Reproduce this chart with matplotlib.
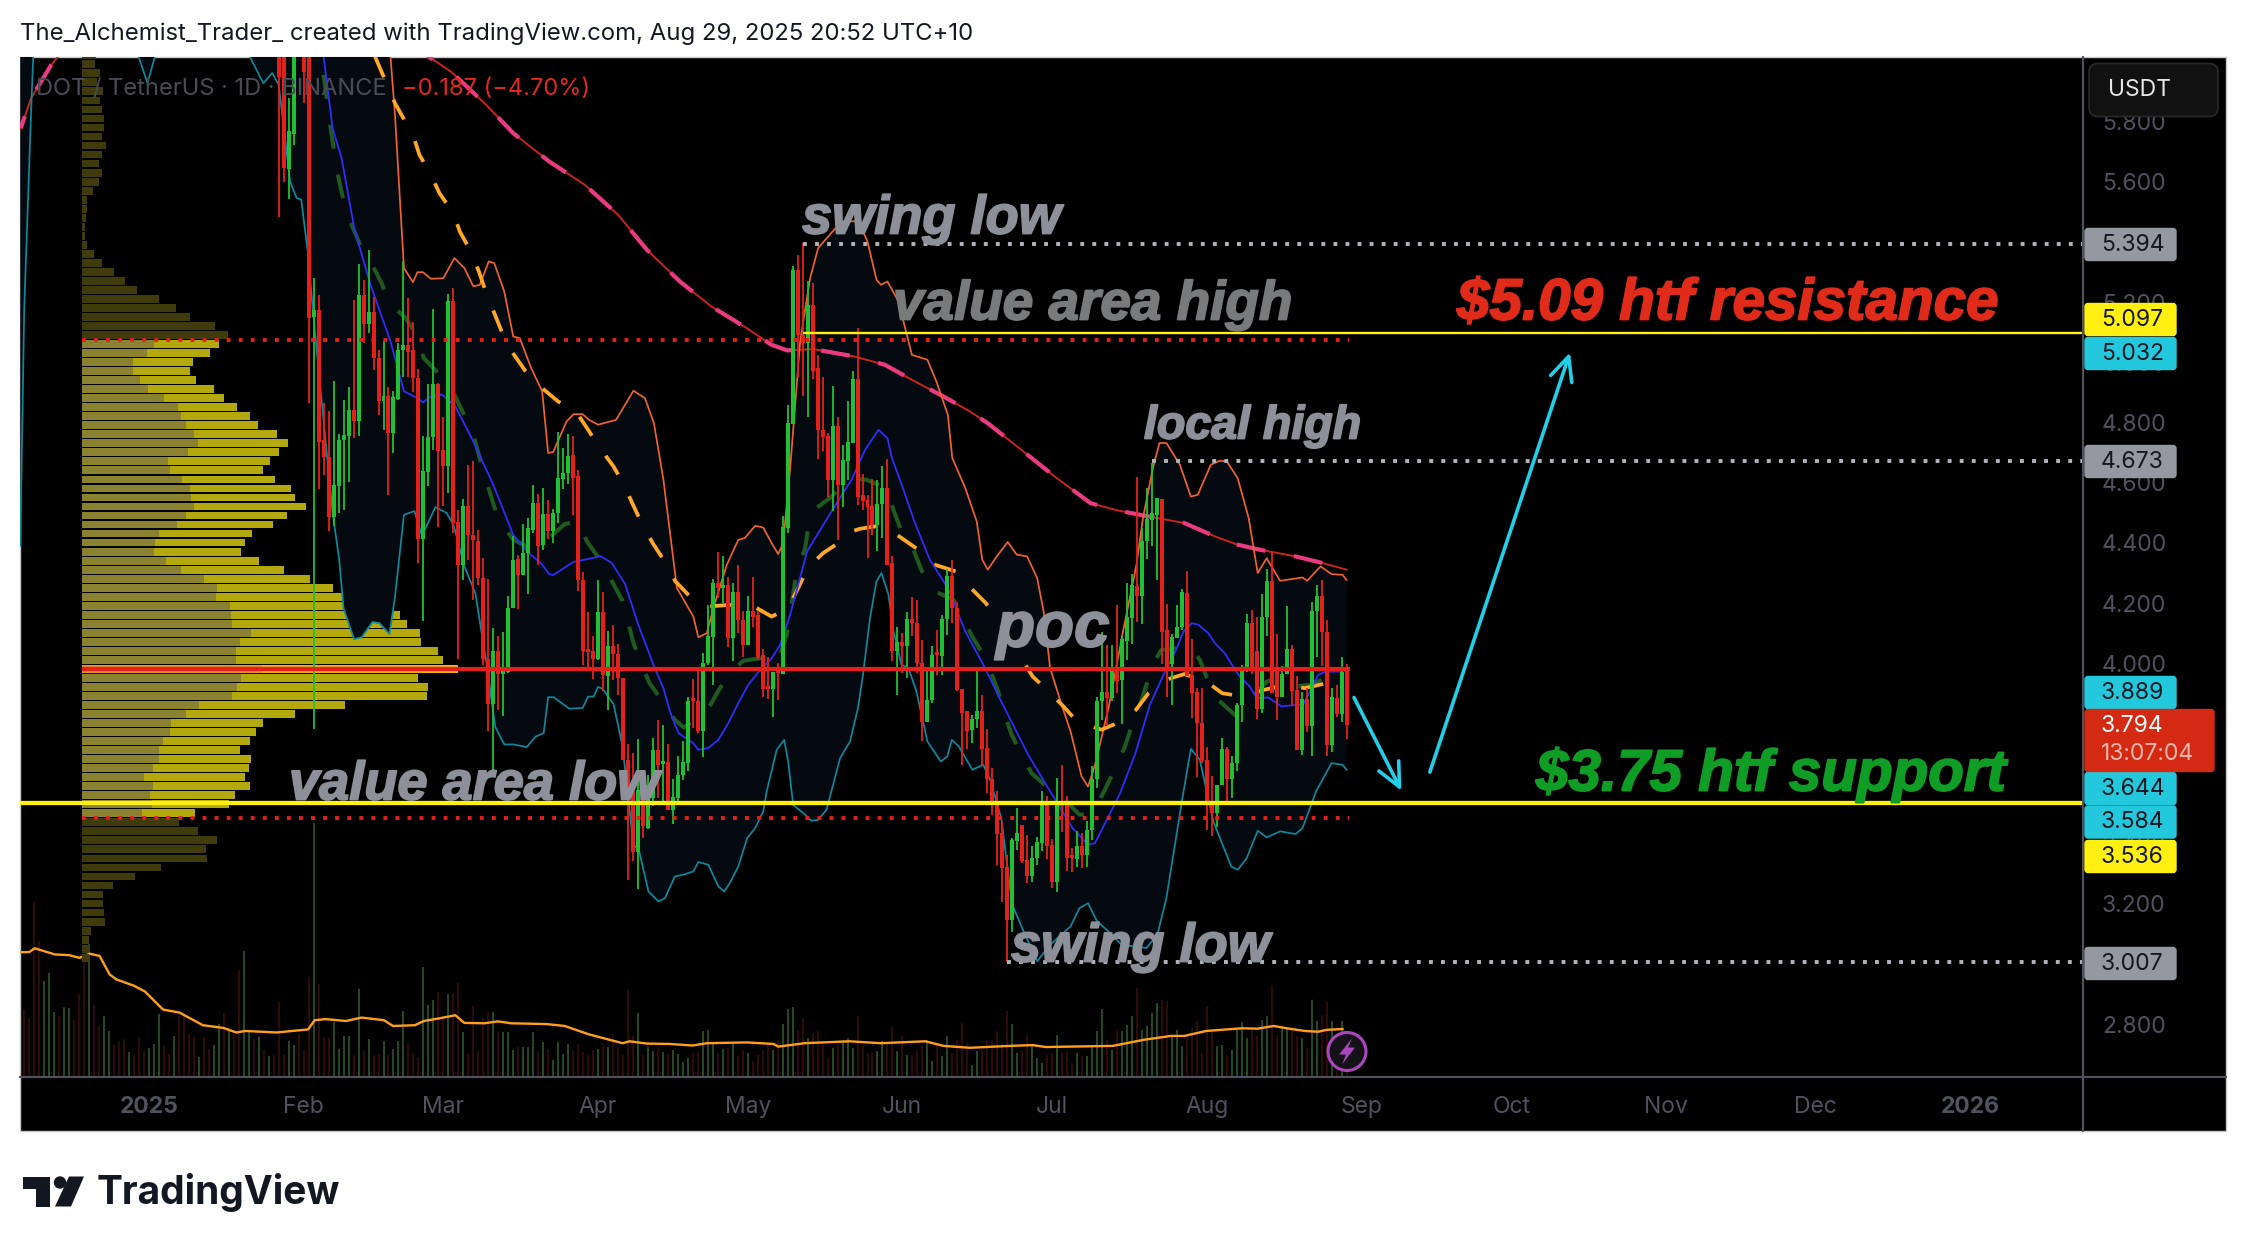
from matplotlib import pyplot as plt
from matplotlib.patches import Rectangle, FancyBboxPatch, Circle, Polygon
import matplotlib.patheffects as pe
import numpy as np

plt.rcParams['font.family'] = ['Inter', 'DejaVu Sans']

W, H = 2246, 1250
SHIFT = 1.5
PANE_L, PANE_R, PANE_T, PANE_B = 20, 2083, 55 + SHIFT, 1075 + SHIFT
XLIM = (-25.85, 387.6)
YLIM = (2.626, 6.017)

# daily candles, day 0 = 1 Jan 2025, first one is day 26
first_day = 26
opens = [6.10, 6.05, 5.642, 5.760, 6.25, 6.20, 6.05, 5.150, 5.175, 4.743,
         4.687, 4.485, 4.588, 4.743, 4.757, 4.842, 4.804, 5.225, 5.127, 5.166,
         5.014, 4.873, 4.887, 4.765, 4.879, 5.042, 5.059, 5.040, 4.948, 4.413,
         4.635, 4.751, 4.929, 4.709, 4.656, 5.203, 4.471, 4.327, 4.521, 4.427,
         4.407, 4.283, 4.015, 3.864, 4.042, 3.964, 3.972, 4.183, 4.347, 4.294,
         4.366, 4.443, 4.534, 4.394, 4.497, 4.440, 4.499, 4.613, 4.632, 4.693,
         4.621, 4.277, 4.044, 4.039, 4.014, 4.169, 3.959, 4.056, 4.031, 3.950,
         3.679, 3.574, 3.372, 3.646, 3.452, 3.552, 3.710, 3.665, 3.673, 3.513,
         3.552, 3.629, 3.668, 3.878, 3.876, 3.773, 4.002, 4.087, 4.266, 4.250,
         4.261, 4.083, 4.238, 4.142, 4.061, 4.175, 4.159, 4.026, 3.919, 3.915,
         3.970, 3.964, 4.449, 4.795, 5.306, 5.092, 5.064, 5.191, 4.981, 4.774,
         4.754, 4.608, 4.790, 4.591, 4.671, 4.732, 4.945, 4.558, 4.543, 4.521,
         4.460, 4.530, 4.584, 4.333, 4.041, 4.072, 4.058, 4.147, 4.135, 4.000,
         3.806, 3.878, 4.031, 4.023, 4.148, 4.291, 4.183, 3.915, 3.840, 3.777,
         3.815, 3.842, 3.718, 3.616, 3.542, 3.435, 3.321, 3.147, 3.410, 3.463,
         3.346, 3.291, 3.354, 3.402, 3.540, 3.394, 3.274, 3.535, 3.538, 3.358,
         3.349, 3.391, 3.361, 3.444, 3.615, 3.875, 3.903, 3.884, 3.978, 3.945,
         4.075, 4.150, 4.258, 4.222, 4.405, 4.477, 4.493, 4.546, 4.111, 3.997,
         4.083, 4.119, 4.235, 3.961, 3.904, 3.801, 3.679, 3.540, 3.502, 3.596,
         3.715, 3.615, 3.668, 3.862, 3.989, 4.133, 4.041, 3.847, 4.153, 4.274,
         3.984, 3.889, 3.965, 4.048, 3.912, 3.712, 3.882, 3.790, 4.175, 4.225,
         4.105, 3.727, 3.884, 3.831, 3.980]
highs = [6.20, 6.20, 5.878, 6.20, 6.30, 6.30, 6.10, 5.280, 5.225, 4.865,
         4.837, 4.937, 4.763, 4.876, 4.917, 5.208, 5.328, 5.275, 5.374, 5.219,
         5.042, 5.070, 4.917, 4.906, 5.064, 5.336, 5.214, 5.136, 4.979, 4.754,
         4.929, 5.178, 4.933, 4.817, 5.228, 5.247, 4.510, 4.546, 4.659, 4.673,
         4.443, 4.349, 4.281, 4.117, 4.091, 4.105, 4.224, 4.423, 4.360, 4.463,
         4.484, 4.593, 4.563, 4.584, 4.543, 4.513, 4.770, 4.717, 4.763, 4.756,
         4.643, 4.302, 4.169, 4.089, 4.277, 4.238, 4.108, 4.128, 4.064, 3.950,
         3.732, 3.701, 3.749, 3.646, 3.630, 3.753, 3.812, 3.793, 3.732, 3.616,
         3.693, 3.742, 3.889, 3.948, 3.975, 4.033, 4.194, 4.281, 4.371, 4.358,
         4.286, 4.266, 4.327, 4.172, 4.222, 4.285, 4.172, 4.048, 4.019, 3.970,
         4.000, 4.491, 4.859, 5.322, 5.358, 5.396, 5.269, 5.263, 5.025, 4.953,
         4.765, 4.920, 4.817, 4.724, 4.873, 4.972, 5.116, 4.630, 4.560, 4.613,
         4.610, 4.657, 4.680, 4.355, 4.119, 4.100, 4.170, 4.219, 4.211, 4.076,
         3.978, 4.056, 4.109, 4.159, 4.313, 4.342, 4.205, 3.915, 3.842, 3.828,
         3.987, 3.893, 3.782, 3.653, 3.574, 3.474, 3.361, 3.418, 3.520, 3.463,
         3.429, 3.391, 3.421, 3.576, 3.557, 3.416, 3.620, 3.660, 3.557, 3.387,
         3.443, 3.435, 3.474, 3.657, 3.889, 4.105, 4.061, 4.061, 4.192, 4.094,
         4.266, 4.297, 4.620, 4.449, 4.584, 4.665, 4.549, 4.546, 4.197, 4.097,
         4.192, 4.247, 4.305, 4.081, 3.919, 3.919, 3.720, 3.626, 3.596, 3.753,
         3.723, 3.692, 3.869, 3.995, 4.164, 4.177, 4.155, 4.231, 4.314, 4.369,
         4.098, 3.992, 4.189, 4.059, 3.956, 3.903, 3.919, 4.205, 4.260, 4.277,
         4.142, 3.919, 3.928, 4.019, 3.998]
lows = [5.485, 5.601, 5.543, 5.723, 6.05, 5.862, 4.865, 3.78, 4.579, 4.626,
        4.438, 4.457, 4.499, 4.510, 4.604, 4.748, 4.754, 5.064, 5.097, 4.975,
        4.826, 4.776, 4.560, 4.698, 4.875, 4.951, 4.951, 4.903, 4.333, 4.14,
        4.588, 4.710, 4.452, 4.521, 4.566, 4.432, 4.015, 4.277, 4.344, 4.209,
        4.261, 3.995, 3.775, 3.646, 3.845, 3.823, 3.967, 4.183, 4.181, 4.294,
        4.230, 4.432, 4.327, 4.377, 4.412, 4.399, 4.466, 4.579, 4.595, 4.493,
        4.241, 3.995, 3.989, 3.947, 4.011, 3.908, 3.845, 3.945, 3.895, 3.679,
        3.280, 3.341, 3.250, 3.419, 3.449, 3.524, 3.552, 3.535, 3.513, 3.465,
        3.540, 3.612, 3.640, 3.784, 3.768, 3.688, 3.995, 3.928, 4.216, 4.200,
        4.053, 4.006, 4.100, 4.022, 4.061, 4.122, 4.011, 3.889, 3.881, 3.821,
        3.878, 3.964, 4.432, 4.795, 4.953, 4.887, 4.820, 4.945, 4.678, 4.707,
        4.554, 4.505, 4.408, 4.519, 4.610, 4.732, 4.527, 4.510, 4.349, 4.427,
        4.372, 4.416, 4.327, 4.006, 3.893, 3.969, 3.951, 4.092, 3.967, 3.740,
        3.803, 3.867, 3.962, 3.962, 4.095, 4.135, 3.906, 3.662, 3.714, 3.734,
        3.784, 3.662, 3.568, 3.496, 3.330, 3.206, 3.007, 3.108, 3.380, 3.335,
        3.269, 3.271, 3.330, 3.376, 3.349, 3.252, 3.239, 3.440, 3.308, 3.305,
        3.324, 3.319, 3.324, 3.413, 3.585, 3.812, 3.795, 3.873, 3.900, 3.797,
        4.011, 4.063, 4.136, 4.130, 4.347, 4.391, 4.277, 3.997, 3.889, 3.862,
        4.083, 4.111, 3.959, 3.817, 3.623, 3.668, 3.446, 3.424, 3.454, 3.596,
        3.535, 3.551, 3.642, 3.806, 3.972, 3.964, 3.814, 3.834, 4.092, 3.900,
        3.812, 3.889, 3.965, 3.858, 3.712, 3.696, 3.771, 3.690, 4.022, 3.991,
        3.690, 3.704, 3.820, 3.804, 3.747]
closes = [5.95, 5.646, 5.768, 6.05, 6.10, 5.967, 5.147, 5.173, 4.737, 4.684,
          4.485, 4.591, 4.743, 4.759, 4.842, 4.804, 5.225, 5.127, 5.166, 5.016,
          4.873, 4.887, 4.765, 4.884, 5.042, 5.059, 5.036, 4.948, 4.413, 4.638,
          4.751, 4.929, 4.707, 4.656, 5.203, 4.466, 4.327, 4.524, 4.425, 4.410,
          4.283, 4.015, 3.864, 4.039, 3.964, 3.972, 4.183, 4.344, 4.294, 4.366,
          4.449, 4.534, 4.391, 4.497, 4.440, 4.499, 4.617, 4.634, 4.690, 4.617,
          4.277, 4.042, 4.037, 4.014, 4.169, 3.961, 4.056, 4.030, 3.950, 3.679,
          3.565, 3.372, 3.579, 3.460, 3.596, 3.710, 3.660, 3.673, 3.513, 3.554,
          3.629, 3.671, 3.876, 3.873, 3.773, 4.002, 4.089, 4.266, 4.250, 4.258,
          4.083, 4.238, 4.142, 4.061, 4.175, 4.155, 4.022, 3.915, 3.915, 3.970,
          3.967, 4.454, 4.798, 5.306, 5.092, 5.064, 5.191, 4.973, 4.774, 4.752,
          4.608, 4.790, 4.591, 4.674, 4.737, 4.945, 4.554, 4.538, 4.519, 4.460,
          4.530, 4.584, 4.327, 4.041, 4.072, 4.058, 4.147, 4.133, 4.000, 3.806,
          3.878, 4.028, 4.026, 4.148, 4.291, 4.183, 3.912, 3.834, 3.773, 3.815,
          3.842, 3.714, 3.615, 3.535, 3.432, 3.319, 3.147, 3.413, 3.435, 3.341,
          3.291, 3.354, 3.404, 3.535, 3.393, 3.274, 3.535, 3.524, 3.352, 3.352,
          3.391, 3.361, 3.444, 3.615, 3.875, 3.903, 3.884, 3.978, 3.942, 4.080,
          4.155, 4.260, 4.222, 4.405, 4.479, 4.499, 4.549, 4.105, 3.980, 4.087,
          4.122, 4.238, 3.959, 3.900, 3.801, 3.676, 3.540, 3.502, 3.596, 3.715,
          3.615, 3.668, 3.862, 3.989, 4.133, 3.981, 3.847, 4.155, 4.272, 3.900,
          3.889, 3.965, 4.048, 3.908, 3.712, 3.882, 3.790, 4.175, 4.225, 4.103,
          3.727, 3.886, 3.831, 3.972, 3.794]

# 200 day average
ma_days = [-25.7, -23.6, -19.6, -18.2, -15, -5, 30, 50, 56, 60.5, 67.6, 73, 80.2, 87.3, 94, 99.8,
           106.4, 112.7, 119.8, 124.7, 127.9, 133.2, 141.3, 147.5, 152.9, 159.2, 164.5, 168.1,
           174.4, 181.5, 188.7, 194.1, 200.3, 207.5, 213.7, 218.2, 222.7, 229.8, 235.2, 240]
ma_vals = [5.779, 5.879, 5.989, 6.017, 6.15, 6.5, 6.8, 6.2, 6.017, 5.967, 5.856, 5.762, 5.668, 5.591,
           5.491, 5.374, 5.269, 5.186, 5.114, 5.059, 5.040, 5.044, 5.020, 4.992, 4.942, 4.887,
           4.837, 4.798, 4.715, 4.621, 4.532, 4.508, 4.488, 4.466, 4.421, 4.394, 4.377, 4.355,
           4.333, 4.311]

upper_days = [-25.8, 47, 48.4, 49.3, 51.1, 52.9, 53.8, 54.9, 56.5, 59, 61.2, 63.2, 65, 66.3, 68.1, 69.2,
              71.2, 73, 74.3, 76.6, 78.8, 80, 81, 83.7, 85.1, 86.9, 88.2, 90, 93.6, 97.1, 99.4,
              101.2, 103.1, 105.8, 109.1, 110.1, 111.8, 113.1, 115.8, 118.1, 119.4, 121.5, 123.1,
              124.8, 126.1, 127.1, 128.5, 130.5, 132.5, 134.1, 137.3, 139, 142.2, 144, 145.8, 146.7,
              148, 150.2, 152.9, 156, 157.8, 160.1, 161, 163.6, 165.9, 167, 168.1, 169.9, 172.1,
              173.9, 176, 178, 179.3, 180.6, 182.9, 184.7, 186.9, 188.2, 189.6, 192.3, 195.2, 197.9,
              199.2, 201.2, 202.5, 203.9, 206.6, 208.8, 210.2, 212.8, 214.6, 216, 218.2, 220.4,
              222.2, 224, 226.7, 231.2, 232.1, 234.8, 237, 239.2, 240]
upper_vals = [9, 9, 6.017, 5.823, 5.314, 5.267, 5.300, 5.300, 5.278, 5.280, 5.347, 5.314, 5.253, 5.258,
              5.336, 5.330, 5.236, 5.086, 5.081, 4.981, 4.904, 4.699, 4.702, 4.804, 4.828, 4.828,
              4.809, 4.793, 4.809, 4.906, 4.881, 4.798, 4.610, 4.250, 4.155, 4.086, 4.100, 4.183,
              4.327, 4.410, 4.416, 4.457, 4.451, 4.399, 4.363, 4.399, 4.648, 5.07, 5.28, 5.380,
              5.441, 5.469, 5.469, 5.402, 5.275, 5.258, 5.269, 5.203, 5.025, 5.009, 4.937, 4.826,
              4.682, 4.582, 4.471, 4.344, 4.311, 4.355, 4.403, 4.361, 4.355, 4.283, 4.172, 3.984,
              3.862, 3.773, 3.624, 3.590, 3.662, 3.851, 4.105, 4.327, 4.482, 4.649, 4.732, 4.732,
              4.660, 4.554, 4.560, 4.660, 4.673, 4.671, 4.615, 4.482, 4.300, 4.349, 4.274, 4.285,
              4.274, 4.322, 4.296, 4.294, 4.277]

lower_days = [-25.8, -25, -23.6, -23.2, -20, -5, -2.1, -0.3, 1.2, 10, 20.2, 22.9, 24.7, 26, 28.3, 29.6, 30.5,
              31.9, 32.8, 34.1, 35.4, 36.8, 38.1, 39, 41.1, 42.6, 44.8, 46.2, 48.2, 49.3, 51.1,
              53.2, 54.7, 57.4, 59.6, 61, 63.2, 65.4, 67.6, 69.4, 71.2, 73, 75.7, 77.5, 79.1, 80,
              81.1, 84.2, 86.9, 88, 89.1, 90, 90.9, 93.1, 94.9, 97.1, 98.1, 100.1, 102.1, 103.4,
              105.4, 107.1, 109.1, 110.1, 112.1, 114.1, 115.3, 116.4, 118.1, 119.9, 121.5, 123.1,
              123.8, 125.8, 127.3, 128.1, 129.1, 131.5, 132.8, 134.1, 135.8, 138.5, 140.5, 142.1,
              143.1, 144.5, 145.8, 146.8, 148.2, 149.2, 150.8, 152.2, 153.8, 156, 158.7, 160, 160.9,
              162.3, 165, 167.2, 168.6, 170.8, 173, 175.3, 178, 180.6, 184.7, 186.5, 188.2, 190,
              192.3, 194.9, 197.6, 199.9, 202.1, 203.9, 207, 208.8, 210.6, 213.3, 216.9, 218.2,
              220, 222.2, 224, 226.7, 229.8, 231.2, 233.9, 237, 239.2, 240]
lower_vals = [4.39, 5.18, 5.845, 6.017, 6.3, 6.2, 6.017, 5.928, 6.017, 6.5, 6.017, 5.928, 5.962, 5.923, 5.6,
              5.546, 5.541, 5.358, 5.18, 4.959, 4.737, 4.5, 4.347, 4.182, 4.080, 4.086, 4.137, 4.133,
              4.097, 4.220, 4.493, 4.506, 4.423, 4.519, 4.5, 4.462, 4.322, 4.233, 4.004, 3.788,
              3.730, 3.73, 3.721, 3.756, 3.768, 3.887, 3.887, 3.849, 3.851, 3.889, 3.889, 3.921,
              3.915, 3.864, 3.724, 3.393, 3.385, 3.241, 3.208, 3.219, 3.291, 3.297, 3.308, 3.339,
              3.33, 3.258, 3.241, 3.269, 3.324, 3.419, 3.452, 3.507, 3.574, 3.712, 3.745, 3.673,
              3.529, 3.496, 3.476, 3.479, 3.513, 3.684, 3.74, 3.851, 3.962, 4.15, 4.272, 4.3, 4.228,
              4.106, 3.995, 3.984, 3.906, 3.74, 3.673, 3.690, 3.745, 3.723, 3.646, 3.662, 3.612,
              3.485, 3.197, 3.108, 3.009, 3.064, 3.125, 3.186, 3.202, 3.142, 3.108, 3.064, 3.058,
              3.053, 3.097, 3.219, 3.54, 3.715, 3.679, 3.474, 3.324, 3.313, 3.352, 3.443, 3.421,
              3.441, 3.432, 3.452, 3.574, 3.668, 3.662, 3.646]

blue_days = [35, 36.8, 38.6, 41.2, 44.4, 48.4, 51.1, 53.8, 54.9, 56.5, 58.7, 61.4, 65, 69, 73, 75.7, 78.8,
             80.2, 81, 85.1, 88.2, 90.5, 92.7, 95.4, 98, 101.2, 103.1, 104.4, 106.1, 109.1, 110.1, 112.1,
             114.1, 116.1, 118.1, 120.1, 122.5, 124.8, 126.5, 128.5, 131.9, 136.8, 140.8, 143.5, 146.2,
             148, 148.9, 151.1, 153.4, 156.5, 160.1, 163.6, 167.2, 170.8, 176.2, 180.6, 185.1, 188.2,
             189.6, 194.5, 197.6, 200.6, 203.3, 206, 207.3, 209, 210.3, 212.3, 213.6, 215.6, 216.6,
             218.6, 220.6, 222, 224.3, 227, 230, 231.3, 232.7, 234.3, 235.7, 238.7, 240]
blue_vals = [6.017, 5.779, 5.679, 5.441, 5.258, 5.070, 4.904, 4.881, 4.867, 4.887, 4.893, 4.854, 4.737,
             4.593, 4.427, 4.373, 4.328, 4.296, 4.293, 4.337, 4.347, 4.356, 4.334, 4.264, 4.131, 3.99,
             3.917, 3.840, 3.768, 3.734, 3.712, 3.718, 3.745, 3.801, 3.867, 3.928, 3.978, 4.017, 4.061,
             4.161, 4.372, 4.505, 4.61, 4.709, 4.776, 4.748, 4.682, 4.582, 4.471, 4.344, 4.25, 4.106,
             3.995, 3.873, 3.696, 3.574, 3.452, 3.396, 3.402, 3.563, 3.696, 3.862, 3.961, 4.05, 4.105,
             4.133, 4.128, 4.1, 4.067, 4.033, 4.006, 3.956, 3.923, 3.884, 3.886, 3.856, 3.862, 3.862,
             3.906, 3.961, 3.972, 3.972, 3.984]

orange_days = [45.3, 47, 49.3, 50.6, 52.9, 54.2, 56.5, 58.2, 61, 62.3, 64.5, 66.1, 67.6, 69.2, 70.8, 72.8, 75.5,
               78.4, 82, 85.5, 88, 90.3, 93.1, 95.1, 97, 98.8, 101, 103.4, 105.5, 108.4, 112.4, 116.4, 121.5,
               124.8, 128.1, 130.1, 132.1, 135.1, 139.1, 140.8, 142.5, 146.8, 150.4, 154.2, 157, 161.7,
               164.4, 167.7, 170.1, 172.6, 174.6, 177.1, 179.9, 183.3, 186, 190.9, 194.1, 197.8, 200.3,
               203.9, 207.5, 211.9, 215.1, 219.5, 223.6, 228, 231.6, 236.1, 239.7]
orange_vals = [6.017, 5.951, 5.862, 5.823, 5.757, 5.69, 5.624, 5.563, 5.496, 5.435, 5.369, 5.303, 5.23, 5.164,
               5.098, 5.034, 4.97, 4.92, 4.87, 4.839, 4.776, 4.717, 4.654, 4.596, 4.527, 4.463, 4.398, 4.337,
               4.272, 4.222, 4.189, 4.194, 4.186, 4.155, 4.183, 4.25, 4.318, 4.366, 4.410, 4.438, 4.447,
               4.458, 4.421, 4.377, 4.33, 4.305, 4.255, 4.2, 4.145, 4.072, 4.022, 3.956, 3.912, 3.856,
               3.806, 3.779, 3.801, 3.845, 3.9, 3.945, 3.964, 3.939, 3.9, 3.889, 3.912, 3.928, 3.917,
               3.934, 3.923]

green_days = [35, 36.3, 37.7, 39.5, 42.6, 44.4, 46.6, 48.2, 51.5, 53.3, 55.1, 57.3, 60.9, 65, 67.2, 69.9, 73,
              76.1, 80.6, 83.3, 86, 87.8, 90.5, 92.2, 94.9, 95.8, 97.1, 98.5, 100.3, 102.5, 105.2, 107.2,
              111.8, 113.8, 116.1, 119.1, 123.5, 126.1, 127.8, 129.8, 131.5, 132.1, 133.8, 136.8, 140.1,
              143.8, 147.8, 149.2, 150.8, 153.2, 154.8, 156.8, 161.2, 162.9, 164.8, 166.8, 168.8, 170.2,
              171.5, 172.9, 174.9, 176.9, 180.2, 183.2, 186.5, 189.2, 191.9, 193.6, 195.6, 196.9, 198.6,
              199.9, 201.3, 202.9, 208.6, 210.6, 212.3, 214.3, 217.6, 220.6, 224, 226, 230, 232.7, 235.7,
              238.7]
green_vals = [5.956, 5.79, 5.635, 5.5, 5.38, 5.336, 5.264, 5.197, 5.147, 5.098, 5.014, 4.976, 4.904, 4.76,
              4.627, 4.483, 4.411, 4.385, 4.423, 4.462, 4.474, 4.404, 4.341, 4.29, 4.207, 4.15, 4.067,
              4.004, 3.934, 3.883, 3.815, 3.786, 3.84, 3.9, 3.961, 4.008, 4.019, 4.008, 4.094, 4.305,
              4.382, 4.449, 4.516, 4.554, 4.615, 4.61, 4.582, 4.51, 4.438, 4.377, 4.31, 4.244, 4.211,
              4.161, 4.094, 4.039, 3.967, 3.906, 3.828, 3.762, 3.695, 3.634, 3.585, 3.551, 3.496,
              3.502, 3.59, 3.651, 3.723, 3.79, 3.862, 3.928, 4.0, 4.044, 4.056, 4.011, 3.939, 3.878,
              3.828, 3.878, 3.939, 3.95, 3.923, 3.928, 3.950, 3.934]

# volume, two stretches read at slightly different zoom
vol_early = [175, 152, 457, 354, 249, 271, 169, 159, 182, 179, 147, 215, 337, 347, 187, 132, 159, 120, 82, 92,
             97, 65, 57, 104, 67, 75, 85, 164, 82, 60, 107, 157, 167, 110, 102, 50, 102, 72, 82, 137,
             165, 122, 112, 277, 329, 117, 97, 102, 69, 54, 57, 195, 57, 94, 82, 112, 70, 260, 662, 242,
             102, 100, 142, 72, 107, 107, 57, 229, 67, 97, 57, 60, 92, 57, 72, 92, 172, 87, 62, 50,
             287, 187, 200, 222, 157, 215, 219, 244, 115, 60, 185, 67, 152, 169, 169, 117, 115, 115, 69, 77,
             77, 77, 115, 67, 89, 72, 42, 89, 59, 85, 67, 85, 65, 57, 69, 72, 87, 77, 112, 77,
             57, 227, 107, 167, 57, 77, 67, 77, 65, 60, 70, 60]
vol_early_dir = "RRRRGGGRGGRRRGRRGGRRRGRRRGGGRRGRRRRGRRGGRGRRGGRGRGRR"
vol_late = [42, 55, 70, 75, 135, 138, 100, 70, 82, 85, 100, 60, 80, 70, 45, 65, 80, 100, 80, 110,
            158, 203, 207, 140, 175, 115, 130, 135, 100, 55, 85, 95, 110, 115, 85, 180, 90, 70, 70, 75,
            105, 100, 148, 75, 120, 65, 65, 80, 95, 110, 45, 90, 60, 120, 70, 110, 160, 100, 35, 75,
            80, 110, 110, 135, 100, 195, 158, 70, 75, 125, 95, 55, 40, 65, 70, 125, 70, 75, 40, 70,
            60, 60, 95, 135, 202, 110, 80, 140, 135, 155, 180, 265, 140, 150, 190, 220, 230, 225, 120, 140,
            90, 120, 145, 165, 70, 212, 140, 90, 95, 65, 80, 140, 162, 115, 140, 120, 170, 180, 273, 125,
            150, 145, 140, 120, 115, 85, 228, 165, 185, 222, 165, 120, 165, 30]
vol_ma_days = [-25.7, -24, -22.9, -20.9, -18.9, -16, -13.9, -11.9, -9.9, -7.9, -6.6, -3, -0.8, 2.8, 6.1, 10.8,
               14.9, 17.5, 19.3, 25.6, 31.9, 33.2, 35.4, 39.5, 42.6, 47.1, 48.9, 53.3, 55.1, 58.2, 61.4,
               63.2, 67.2, 69.9, 72.6, 79.7, 83.3, 88.2, 94.9, 96.3, 99.8, 104.3, 109, 111.8, 119.8,
               125.2, 126.1, 131.4, 140.4, 146.6, 155.6, 159.2, 164.5, 172.6, 177.1, 179.7, 193.2, 199.4,
               204.8, 207.5, 211.9, 219.1, 222.2, 225.4, 228, 231.6, 234.3, 236.1, 239.2]
vol_ma = [325, 325, 335, 327, 319, 317, 310, 321, 315, 267, 254, 237, 222, 175, 167, 134, 127, 115, 119, 115,
          123, 147, 150, 145, 154, 147, 132, 134, 145, 152, 160, 140, 139, 144, 139, 137, 132, 110, 87,
          92, 86, 85, 81, 87, 89, 85, 78, 87, 92, 87, 92, 80, 75, 80, 82, 77, 80, 96, 106, 106, 119, 126,
          125, 132, 126, 119, 117, 122, 124]

# volume profile, 0.03 wide rows, top row first
vp_step = 0.03
vp_poc = 3.981
vp_top_dark = [31, 29, 40, 34, 47, 40, 44, 49, 49, 44, 53, 44, 38, 44, 38, 24, 11, 11, 9, 6,
               6, 11, 27, 44, 71, 96, 123, 172, 210, 242, 298, 327]
vp_area_total = [307, 286, 248, 242, 255, 295, 318, 347, 376, 394, 436, 461, 441, 421, 405, 432, 468, 477, 501,
                 459, 428, 380, 365, 356, 396, 452, 510, 562, 584, 658, 712, 728, 757, 759, 797, 808,
                 842,
                 752, 775, 772, 589, 477, 405, 389, 376, 354, 378, 374, 365, 376, 342, 329, 253]
vp_area_part = [161, 145, 114, 114, 130, 148, 183, 215, 221, 233, 251, 260, 237, 192, 197, 224, 242, 244, 251,
                233, 212, 172, 163, 161, 188, 221, 273, 302, 300, 331, 333, 336, 378, 354, 345, 345,
                403,
                356, 347, 336, 262, 233, 199, 197, 181, 172, 172, 159, 139, 159, 152, 156, 134]
vp_bottom_dark = [217, 260, 302, 277, 280, 177, 118, 69, 47, 47, 49, 51, 20, 15, 15, 16]

# levels
swing_high = 5.394
vah_line = 5.097
vah = 5.073
local_high = 4.673
poc = 3.98
support = 3.536
val = 3.484
swing_low = 3.007

price_ticks = ['2.800', '3.000', '3.200', '3.400', '3.600', '3.800', '4.000', '4.200', '4.400', '4.600',
               '4.800', '5.000', '5.200', '5.400', '5.600', '5.800']
month_days = [0, 31, 59, 90, 120, 151, 181, 212, 243, 273, 304, 334, 365]
month_names = ['2025', 'Feb', 'Mar', 'Apr', 'May', 'Jun', 'Jul', 'Aug', 'Sep', 'Oct', 'Nov', 'Dec', '2026']

# price badge: label, y pixel, fill, text colour
badges = [('5.394', 243, '#9598a1', '#131722'), ('5.097', 318, '#fff012', '#131722'),
          ('5.032', 352, '#24c8dc', '#131722'), ('4.673', 460, '#9598a1', '#131722'),
          ('3.889', 691, '#24c8dc', '#131722'), ('3.644', 787, '#24c8dc', '#131722'),
          ('3.584', 820.5, '#24c8dc', '#131722'), ('3.536', 855, '#fff012', '#131722'),
          ('3.007', 962, '#9598a1', '#131722')]

GREEN = '#1fc031'
RED = '#e5201a'
PANE_POS = [PANE_L / W, 1 - PANE_B / H, (PANE_R - PANE_L) / W, (PANE_B - PANE_T) / H]

fig = plt.figure(figsize=(W / 100, H / 100), dpi=100, facecolor='white')


def pixel_axes(z):
    a = fig.add_axes([0, 0, 1, 1], zorder=z)
    a.set_xlim(0, W)
    a.set_ylim(H - SHIFT, -SHIFT)
    a.axis('off')
    a.patch.set_alpha(0)
    return a


back = pixel_axes(0)
back.add_patch(Rectangle((20, 55), 2206, 1074, fc='black', ec='#c9c9c9', lw=1))

# volume pane
ax_vol = fig.add_axes(PANE_POS, zorder=1, facecolor='none')
ax_vol.set_xlim(*XLIM)
ax_vol.set_ylim(0, 2665)
ax_vol.axis('off')
c_days = np.arange(first_day, first_day + len(opens))
up = np.array(closes) >= np.array(opens)


def vol_color(d):
    if d >= first_day:
        return '#2f5a2b' if up[d - first_day] else '#3a0d0d'
    return '#2f5a2b' if vol_early_dir[d + 25] == 'G' else '#3a0d0d'


e_days = np.arange(-25, -25 + len(vol_early))
l_days = np.arange(241 - len(vol_late), 241)
ax_vol.vlines(e_days, 0, vol_early, colors=[vol_color(d) for d in e_days], lw=1.15)
ax_vol.vlines(l_days, 0, [v * 0.871 for v in vol_late], colors=[vol_color(d) for d in l_days], lw=1.15)
ax_vol.plot(vol_ma_days, vol_ma, color='#ff9f1c', lw=1.7)

# volume profile, x in zoomed reading units from the left of the pane
ax_vp = fig.add_axes(PANE_POS, zorder=1.5, facecolor='none')
ax_vp.set_xlim(-62 * 2.24, (PANE_R - PANE_L - 62) * 2.24)
ax_vp.set_ylim(*YLIM)
ax_vp.axis('off')
n_top = len(vp_top_dark)
n_area = len(vp_area_total)
area_above = 36
y_top = vp_poc + vp_step * np.arange(n_top + area_above, area_above, -1)
y_area = vp_poc + vp_step * (area_above - np.arange(n_area))
y_bottom = vp_poc + vp_step * (area_above - n_area - np.arange(len(vp_bottom_dark)))
rh = 0.026
ax_vp.barh(y_top, vp_top_dark, height=rh, color='#3f3b0a')
ax_vp.barh(y_bottom, vp_bottom_dark, height=rh, color='#3f3b0a')
area_cols = ['#f0b010' if i == area_above else '#b3a90c' for i in range(n_area)]
part_cols = ['#ec8c38' if i == area_above else '#8a8230' for i in range(n_area)]
ax_vp.barh(y_area, vp_area_total, height=rh, color=area_cols)
ax_vp.barh(y_area, vp_area_part, height=rh, color=part_cols)

# price pane
ax = fig.add_axes(PANE_POS, zorder=2, facecolor='none')
ax.set_xlim(*XLIM)
ax.set_ylim(*YLIM)
ax.fill(upper_days + lower_days[::-1], upper_vals + lower_vals[::-1], color='#050a11', lw=0, zorder=1)
ax.plot(ma_days, ma_vals, color='#c8251a', lw=1.4, zorder=2)
ax.plot(ma_days, ma_vals, color='#ec3a80', lw=3, ls=(4, (7, 7)), zorder=2)
ax.plot(upper_days, upper_vals, color='#f0622d', lw=1.25, zorder=2)
ax.plot(lower_days, lower_vals, color='#0e889c', lw=1.25, zorder=2)
ax.plot(green_days, green_vals, color='#1f5a1f', lw=2.9, ls=(0, (6, 6.5)), zorder=2)
ax.plot(orange_days, orange_vals, color='#ffa726', lw=2.7, ls=(0, (6, 6.5)), zorder=3)
ax.plot(blue_days, blue_vals, color='#2f2df8', lw=1.3, zorder=3)

cols = [GREEN if u else RED for u in up]
o = np.array(opens)
c = np.array(closes)
ax.vlines(c_days, lows, highs, colors=cols, lw=1.3, zorder=4)
ax.bar(c_days, np.maximum(np.abs(c - o), 0.01), bottom=np.minimum(o, c), width=0.8, color=cols, lw=0, zorder=4)

dots = (0, (1, 2.1))
left_d = (82 - 149) / 4.99
ax.hlines([vah, val], left_d, 240.5, colors='#e5201a', lw=2.8, linestyles=[dots], zorder=5)
ax.hlines(poc, left_d, 240.7, colors='#e5201a', lw=3, zorder=5)
ax.hlines(swing_high, 131, XLIM[1], colors='#b2b4ba', lw=2.8, linestyles=[dots], zorder=5)
ax.hlines(local_high, 201, XLIM[1], colors='#b2b4ba', lw=2.8, linestyles=[dots], zorder=5)
ax.hlines(swing_low, 172, XLIM[1], colors='#b2b4ba', lw=2.8, linestyles=[dots], zorder=5)
ax.hlines(vah_line, 131, XLIM[1], colors='#fff012', lw=1.7, zorder=5)
ax.hlines(support, XLIM[0], XLIM[1], colors='#fff012', lw=3.1, zorder=5)

arrow = dict(arrowstyle='->,head_length=1.7,head_width=0.8', color='#22cfe8', lw=2.6, shrinkA=0, shrinkB=0)
ax.annotate('', xy=(284.8, 5.033), xytext=(256.7, 3.638), arrowprops=arrow, zorder=6)
ax.annotate('', xy=(251, 3.576), xytext=(241.5, 3.886), arrowprops=arrow, zorder=6)

for s in ax.spines.values():
    s.set_visible(False)
ax.yaxis.tick_right()
ax.set_yticks([float(t) for t in price_ticks], price_ticks, color='#50535e', fontsize=16.5)
ax.set_xticks(month_days, month_names, color='#50535e', fontsize=16.5)
for lab in ax.get_xticklabels():
    if lab.get_text() in ('2025', '2026'):
        lab.set_fontweight('bold')
ax.tick_params(axis='y', length=0, pad=13.5)
ax.tick_params(axis='x', length=0, pad=14)

# chrome and drawings on top
top = pixel_axes(5)
top.plot([PANE_R, PANE_R], [55, 1129], color='#50535e', lw=1.5)
top.plot([20, 2226], [1075, 1075], color='#50535e', lw=1.5)

for label, y, fc, tc in badges:
    top.add_patch(FancyBboxPatch((2085, y - 16), 91, 32, boxstyle='round,pad=0,rounding_size=3', fc=fc, ec=fc, lw=1))
    top.text(2101, y + 0.5, label, color=tc, fontsize=16.5, va='center', ha='left')
top.add_patch(FancyBboxPatch((2085, 708), 129, 62, boxstyle='round,pad=0,rounding_size=3', fc='#d42a14', ec='#d42a14', lw=1))
top.text(2101, 724, '3.794', color='white', fontsize=16.5, va='center')
top.text(2101, 753, '13:07:04', color='#f2b8ae', fontsize=16.5, va='center')
top.add_patch(FancyBboxPatch((2089, 62), 129, 53, boxstyle='round,pad=0,rounding_size=9', fc='#111111', ec='#2a2a2a', lw=1.2))
top.text(2108, 88, 'USDT', color='#e6e6e6', fontsize=16.5, va='center')

notes = [('swing low', 802, 232, 39, '#8e9099'), ('value area high', 893, 318, 39.5, '#787a7c'),
         ('local high', 1144, 437, 33.5, '#8e9099'), ('poc', 996, 645, 46, '#8e9099'),
         ('value area low', 289, 798, 39, '#8e9099'), ('swing low', 1011, 960, 39, '#8e9099'),
         ('$5.09 htf resistance', 1457, 318, 42, '#e02a1a'), ('$3.75 htf support', 1536, 789, 42, '#0f9d25')]
for txt, x, y, size, col in notes:
    t = top.text(x, y, txt, color=col, fontsize=size, family='Liberation Sans', weight='bold', style='italic',
                 va='baseline', ha='left')
    t.set_path_effects([pe.withStroke(linewidth=1.3, foreground=col)])

top.text(36, 87, 'DOT / TetherUS · 1D · BINANCE', color='#4a4c55', fontsize=17, va='center')
top.text(402, 87, '−0.187 (−4.70%)', color='#e0281c', fontsize=17, va='center')

top.add_patch(Circle((1347, 1050), 19, fc='#141118', ec='#ab47bc', lw=2.2))
top.add_patch(Polygon([(1352, 1037), (1339, 1053), (1346, 1053), (1342, 1063), (1355, 1046), (1348, 1046)], fc='#ab47bc'))

top.text(20, 32, 'The_Alchemist_Trader_ created with TradingView.com, Aug 29, 2025 20:52 UTC+10', color='#131722',
         fontsize=17.2, va='center')

# logo
top.add_patch(Polygon([(23, 1175), (50, 1175), (50, 1205), (36, 1205), (36, 1187), (23, 1187)], fc='#131722'))
top.add_patch(Circle((60, 1181), 6.2, fc='#131722'))
top.add_patch(Polygon([(69, 1175), (84, 1175), (71, 1205), (55, 1205)], fc='#131722'))
top.text(97, 1191, 'TradingView', color='#131722', fontsize=28, weight='bold', va='center')

fig.savefig('out.png', dpi=100, facecolor='white')
